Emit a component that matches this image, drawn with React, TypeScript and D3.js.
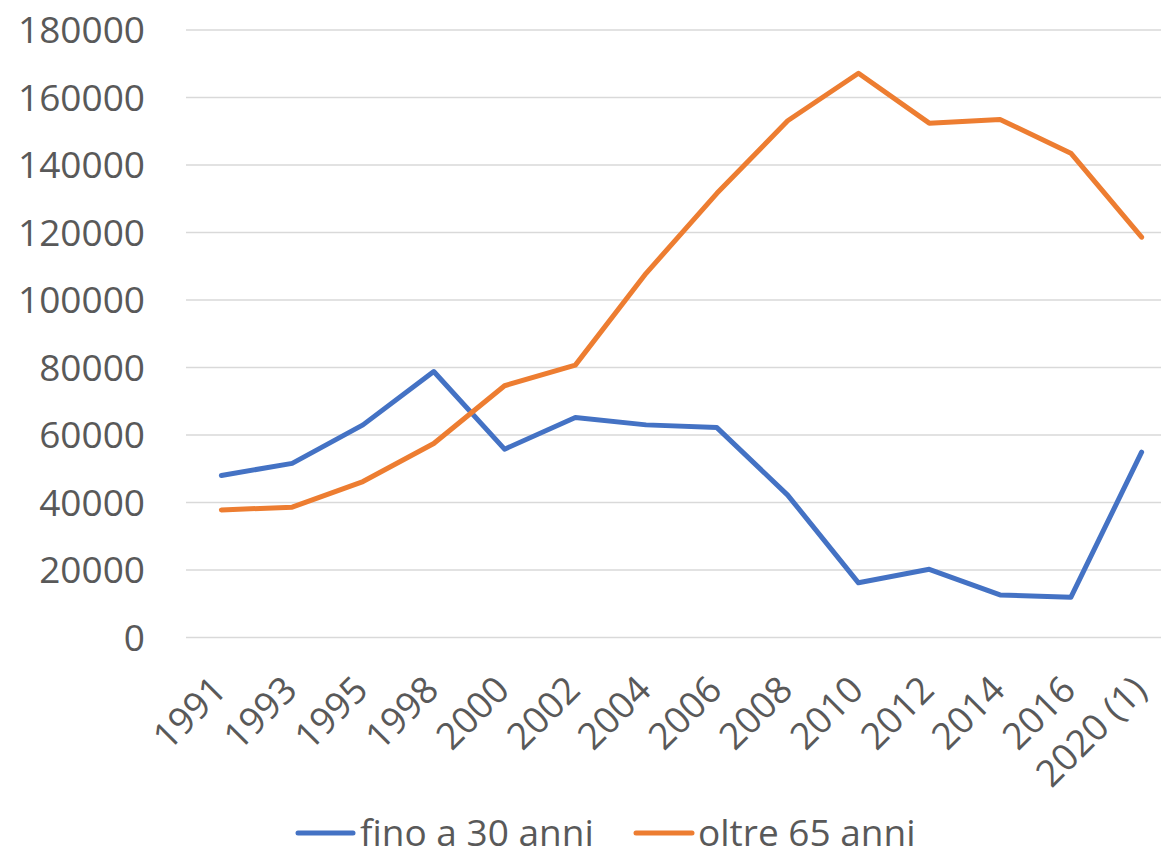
import React from "react";
import * as d3 from "d3";

const WIDTH = 1161;
const HEIGHT = 851;

const years = ["1991", "1993", "1995", "1998", "2000", "2002", "2004", "2006", "2008", "2010", "2012", "2014", "2016", "2020 (1)"];
const fino30 = [48000, 51600, 63000, 78800, 55800, 65200, 63000, 62200, 42200, 16200, 20200, 12600, 11900, 54900];
const oltre65 = [37800, 38600, 46200, 57500, 74600, 80700, 107900, 131600, 153100, 167200, 152400, 153500, 143500, 118600];
const yTicks = [0, 20000, 40000, 60000, 80000, 100000, 120000, 140000, 160000, 180000];

const series = [
  { name: "fino a 30 anni", values: fino30, color: "#4472C4" },
  { name: "oltre 65 anni", values: oltre65, color: "#ED7D31" },
];

const FONT = "'Open Sans', 'Liberation Sans', sans-serif";
const TEXT = "#595959";

const App = () => {
  const x = d3.scalePoint<string>().domain(years).range([186, 1177]).padding(0.5);
  const y = d3.scaleLinear().domain([0, 180000]).range([637.5, 30]);

  const line = d3
    .line<number>()
    .x((_, i) => x(years[i]) as number)
    .y((d) => y(d));

  // legend layout
  const legendItems = [
    { ...series[0], x1: 298, x2: 353, tx: 360 },
    { ...series[1], x1: 636, x2: 692, tx: 698 },
  ];

  return (
    <svg
      width={WIDTH}
      height={HEIGHT}
      style={{ position: "absolute", left: 0, top: 0, background: "#fff" }}
      fontFamily={FONT}
    >
      {/* gridlines */}
      {yTicks.map((t) => (
        <line key={t} x1={186} x2={1177} y1={y(t)} y2={y(t)} stroke="#D9D9D9" strokeWidth={1.4} />
      ))}

      {/* y labels */}
      {yTicks.map((t) => (
        <text key={t} x={145} y={y(t)} dy="0.36em" textAnchor="end" fontSize={37} fill={TEXT}>
          {t}
        </text>
      ))}

      {/* x labels */}
      {years.map((yr) => (
        <text
          key={yr}
          transform={`translate(${(x(yr) as number) + 7}, 692) rotate(-45)`}
          textAnchor="end"
          fontSize={37}
          fill={TEXT}
        >
          {yr}
        </text>
      ))}

      {/* lines */}
      {series.map((s) => (
        <path
          key={s.name}
          d={line(s.values) ?? ""}
          fill="none"
          stroke={s.color}
          strokeWidth={5}
          strokeLinejoin="round"
          strokeLinecap="round"
        />
      ))}

      {/* legend */}
      {legendItems.map((l) => (
        <g key={l.name}>
          <line x1={l.x1} x2={l.x2} y1={833} y2={833} stroke={l.color} strokeWidth={5} strokeLinecap="round" />
          <text x={l.tx} y={846} fontSize={37} fill={TEXT}>
            {l.name}
          </text>
        </g>
      ))}
    </svg>
  );
};

export default App;
